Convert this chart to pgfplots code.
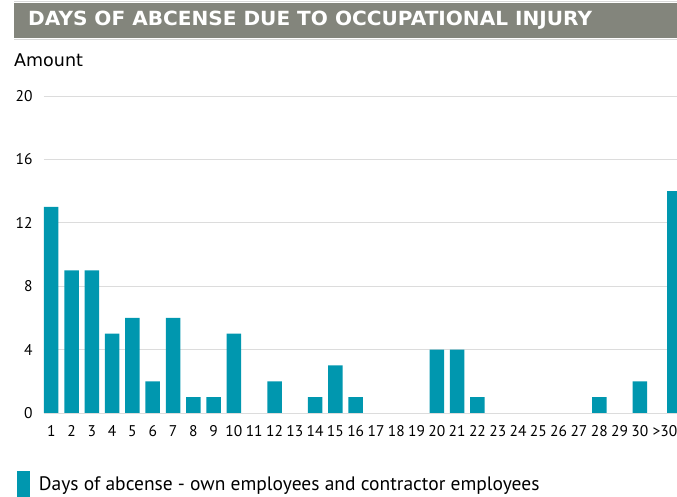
\documentclass[border=0pt]{standalone}
\usepackage{fontspec}
\setmainfont{PT Sans}
\newfontfamily\dejavu{DejaVu Sans}
\usepackage{pgfplots}
\pgfplotsset{compat=1.18}
\definecolor{barteal}{HTML}{0097AF}
\definecolor{titlegray}{HTML}{83857C}
\definecolor{gridgray}{HTML}{DCDCDC}
\begin{document}
\begin{tikzpicture}[x=1pt,y=1pt]
\useasboundingbox (0,0) rectangle (677,497);
\fill[titlegray] (14,459) rectangle (677,494);
\draw[gray!30, line width=0.8pt] (14,495.5) -- (677,495.5);
\draw[gray!30, line width=0.8pt] (14,457.5) -- (677,457.5);
\node[anchor=west, text=white, inner sep=0pt] at (28,476.5) {\scalebox{1.03}[1]{\fontsize{19.5}{22}\selectfont\dejavu\bfseries DAYS OF ABCENSE DUE TO OCCUPATIONAL INJURY}};
\node[anchor=west, inner sep=0pt, font=\fontsize{17.5}{19}\selectfont\dejavu] at (14,437) {Amount};
\begin{axis}[
  at={(44pt,84pt)}, anchor=south west,
  scale only axis, width=633pt, height=317pt,
  xmin=0.643, xmax=31.83, ymin=0, ymax=20,
  axis line style={draw=none},
  major tick length=0pt,
  ymajorgrids, grid style={gridgray, line width=0.8pt},
  ytick={0,4,8,12,16,20},
  xtick={1,2,3,4,5,6,7,8,9,10,11,12,13,14,15,16,17,18,19,20,21,22,23,24,25,26,27,28,29,30},
  xticklabels={1,2,3,4,5,6,7,8,9,10,11,12,13,14,15,16,17,18,19,20,21,22,23,24,25,26,27,28,29,30},
  extra x ticks={31.7},
  extra x tick labels={{>30}},
  extra x tick style={xticklabel style={anchor=north east, xshift=6.5pt}},
  tick label style={font=\fontsize{15.5}{17}\selectfont},
  /pgf/number format/assume math mode=true,
  yticklabel style={anchor=east, xshift=-8pt},
  xticklabel style={anchor=north, yshift=-9pt},
  ybar, bar width=14.5pt, bar shift=0pt,
  legend style={at={(axis description cs:-0.043,-0.183)}, anchor=north west, draw=none, fill=none, inner sep=0pt, font=\fontsize{19.5}{21}\selectfont,
    /tikz/every odd column/.append style={column sep=7pt}},
  legend cell align=left,
  legend image code/.code={\fill[barteal] (0pt,-14pt) rectangle (13pt,13pt);},
]
\addplot[fill=barteal, draw=none] coordinates {
(1,13) (2,9) (3,9) (4,5) (5,6) (6,2) (7,6) (8,1) (9,1) (10,5)
(12,2) (14,1) (15,3) (16,1) (20,4)
(21,4) (22,1) (28,1) (30,2)
(31.7,14)};
\addlegendentry{Days of abcense - own employees and contractor employees}
\end{axis}
\end{tikzpicture}
\end{document}
